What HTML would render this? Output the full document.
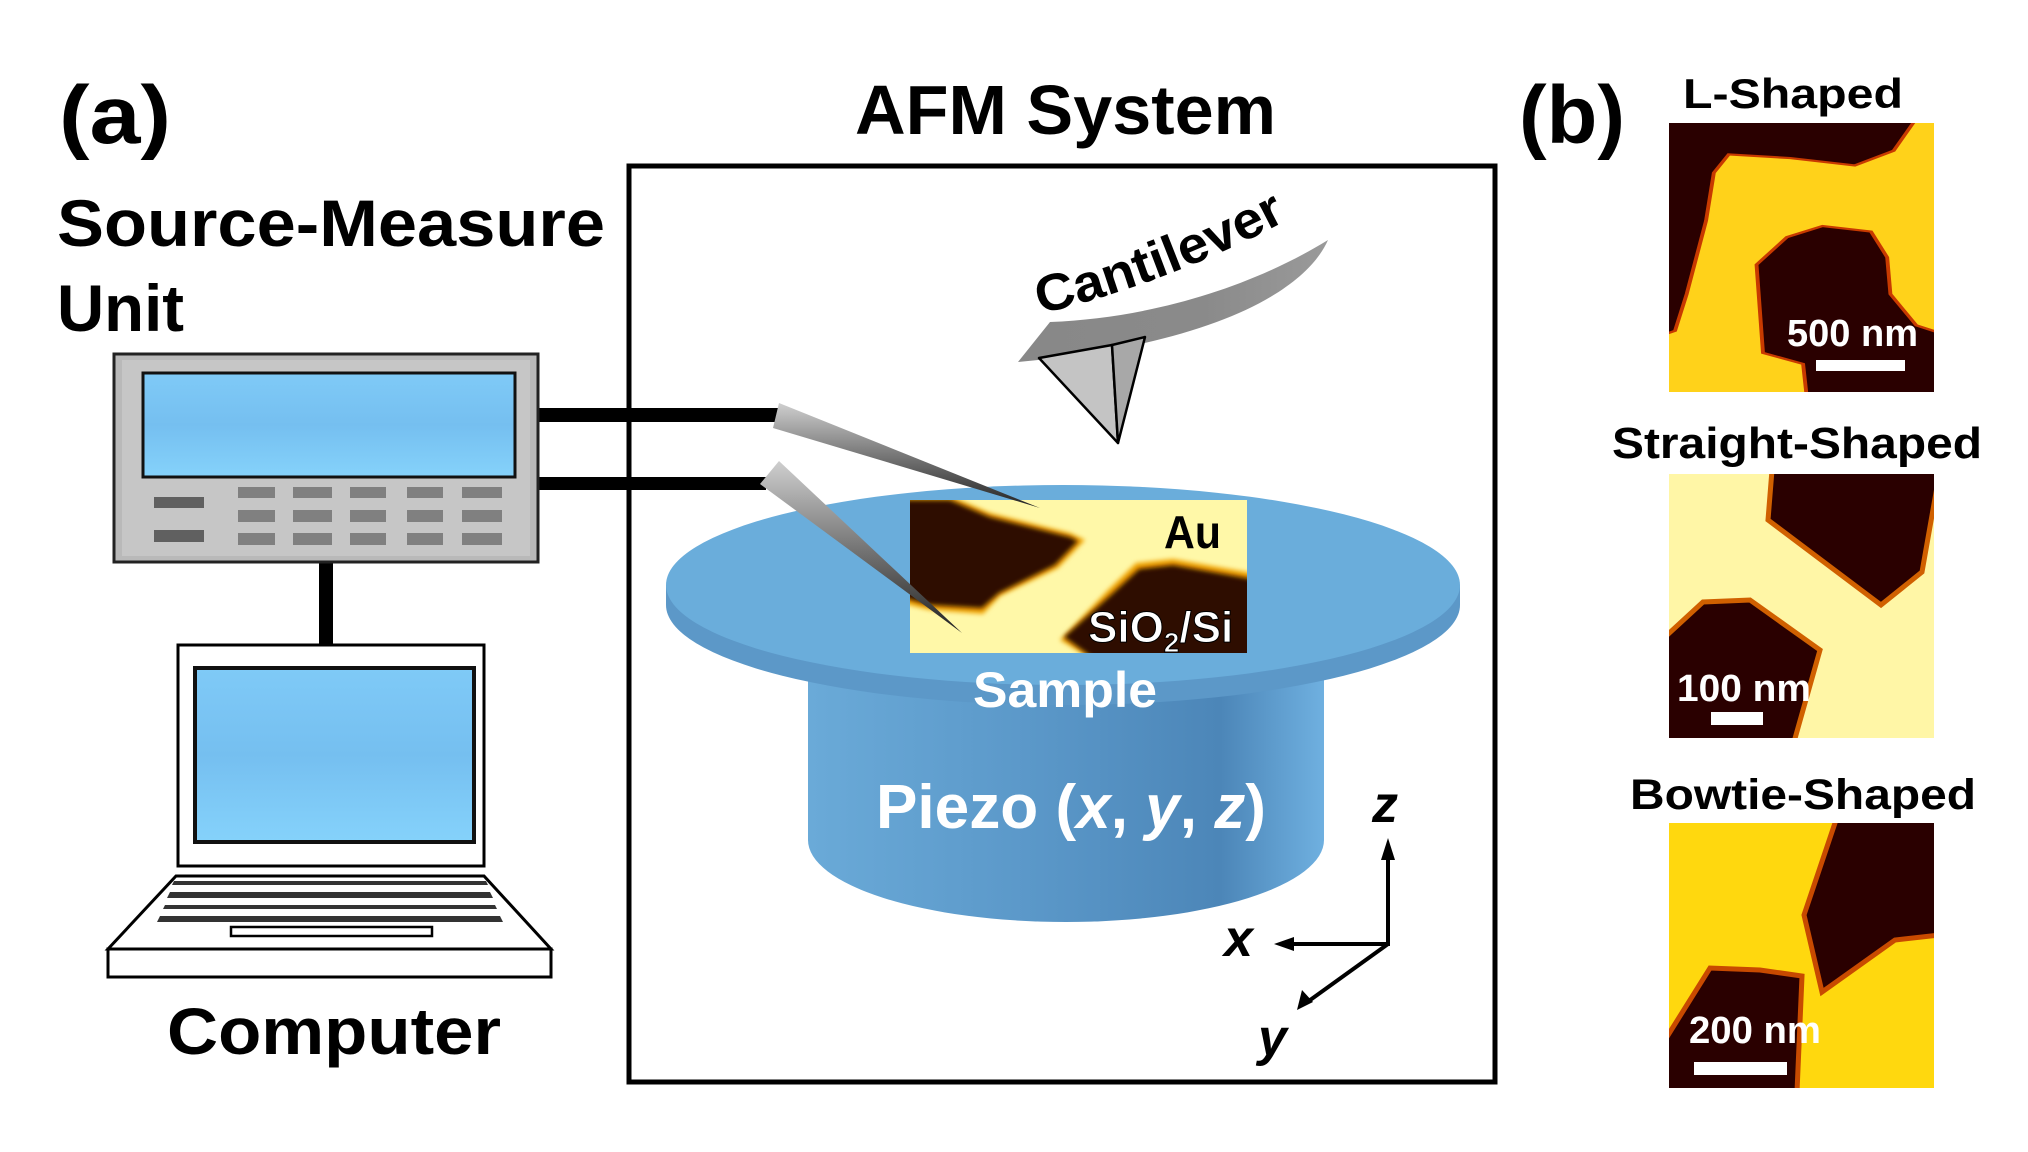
<!DOCTYPE html>
<html><head><meta charset="utf-8"><style>
html,body{margin:0;padding:0;background:#fff}
svg{display:block}
text{font-family:"Liberation Sans",Arial,sans-serif;font-weight:bold}
</style></head><body>
<svg width="2028" height="1152" viewBox="0 0 2028 1152" xmlns="http://www.w3.org/2000/svg">
<defs>
<linearGradient id="cyl" x1="0" x2="1" y1="0" y2="0">
<stop offset="0" stop-color="#6aaad8"/><stop offset="0.45" stop-color="#5a97c8"/><stop offset="0.8" stop-color="#4c86b8"/><stop offset="1" stop-color="#6fb0e0"/>
</linearGradient>
<linearGradient id="cant" x1="0" x2="1" y1="0" y2="0">
<stop offset="0" stop-color="#888"/><stop offset="0.6" stop-color="#8a8a8a"/><stop offset="1" stop-color="#9a9a9a"/>
</linearGradient>
<linearGradient id="ndl" x1="0" x2="0" y1="0" y2="1">
<stop offset="0" stop-color="#cfcfcf"/><stop offset="0.5" stop-color="#777"/><stop offset="1" stop-color="#222"/>
</linearGradient>
<linearGradient id="scr" x1="0" x2="0" y1="0" y2="1">
<stop offset="0" stop-color="#7fcaf7"/><stop offset="0.5" stop-color="#75bff0"/><stop offset="1" stop-color="#85d2fb"/>
</linearGradient>
<filter id="bl" x="-10%" y="-10%" width="120%" height="120%"><feGaussianBlur stdDeviation="2.5"/></filter>
<clipPath id="c0"><rect x="910" y="500" width="337" height="153"/></clipPath>
<clipPath id="c1"><rect x="1669" y="123" width="265" height="269"/></clipPath>
<clipPath id="c2"><rect x="1669" y="474" width="265" height="264"/></clipPath>
<clipPath id="c3"><rect x="1669" y="823" width="265" height="265"/></clipPath>
</defs>

<text x="59" y="143" font-size="82" textLength="112" lengthAdjust="spacingAndGlyphs">(a)</text>
<text x="855" y="134" font-size="70" textLength="421" lengthAdjust="spacingAndGlyphs">AFM System</text>
<text x="57" y="246" font-size="66" textLength="548" lengthAdjust="spacingAndGlyphs">Source-Measure</text>
<text x="57" y="331" font-size="66" textLength="127" lengthAdjust="spacingAndGlyphs">Unit</text>
<text x="1519" y="143" font-size="82" textLength="106" lengthAdjust="spacingAndGlyphs">(b)</text>

<rect x="629" y="166" width="866" height="916" fill="none" stroke="#000" stroke-width="5"/>

<rect x="538" y="408" width="240" height="14" fill="#000"/>
<rect x="538" y="477" width="228" height="13" fill="#000"/>
<rect x="319" y="560" width="14" height="86" fill="#000"/>

<rect x="114" y="354" width="424" height="208" fill="#b9b9b9" stroke="#222" stroke-width="3"/>
<rect x="122" y="360" width="408" height="196" fill="#c6c6c6"/>
<rect x="143" y="373" width="372" height="104" fill="url(#scr)" stroke="#111" stroke-width="3"/>
<g fill="#606060"><rect x="154" y="497" width="50" height="11"/><rect x="154" y="530" width="50" height="12"/></g>
<g fill="#808080">
<rect x="238" y="487" width="37" height="11"/><rect x="293" y="487" width="39" height="11"/><rect x="350" y="487" width="36" height="11"/><rect x="407" y="487" width="36" height="11"/><rect x="462" y="487" width="40" height="11"/>
<rect x="238" y="510" width="37" height="12"/><rect x="293" y="510" width="39" height="12"/><rect x="350" y="510" width="36" height="12"/><rect x="407" y="510" width="36" height="12"/><rect x="462" y="510" width="40" height="12"/>
<rect x="238" y="533" width="37" height="12"/><rect x="293" y="533" width="39" height="12"/><rect x="350" y="533" width="36" height="12"/><rect x="407" y="533" width="36" height="12"/><rect x="462" y="533" width="40" height="12"/>
</g>

<rect x="178" y="645" width="306" height="221" fill="#fff" stroke="#000" stroke-width="3"/>
<rect x="195" y="668" width="279" height="174" fill="url(#scr)" stroke="#111" stroke-width="4"/>
<polygon points="176,876 484,876 551,949 108,949" fill="#fff" stroke="#000" stroke-width="3"/>
<g fill="#333">
<polygon points="174,881 486,881 488,885 172,885"/>
<polygon points="170,892 490,892 493,898 167,898"/>
<polygon points="165,905 495,905 497,909 163,909"/>
<polygon points="160,916 500,916 503,922 157,922"/>
</g>
<rect x="231" y="927" width="201" height="9" fill="#fff" stroke="#000" stroke-width="2.5"/>
<rect x="108" y="949" width="443" height="28" fill="#fff" stroke="#000" stroke-width="3"/>
<text x="167" y="1054" font-size="66" textLength="334" lengthAdjust="spacingAndGlyphs">Computer</text>

<rect x="808" y="640" width="516" height="200" fill="url(#cyl)"/>
<ellipse cx="1066" cy="840" rx="258" ry="82" fill="url(#cyl)"/>
<ellipse cx="1063" cy="605" rx="397" ry="100" fill="#5c98c8"/>
<rect x="666" y="585" width="794" height="20" fill="#5c98c8"/>
<ellipse cx="1063" cy="585" rx="397" ry="100" fill="#6aaddb"/>

<g clip-path="url(#c0)">
<rect x="910" y="500" width="337" height="153" fill="#fff8a8"/>
<g filter="url(#bl)">
<polygon points="905,496 950,496 990,513 1070,533 1085,540 1058,568 1000,596 983,614 930,610 905,604" fill="#f0a000"/>
<polygon points="1060,640 1108,590 1136,563 1173,559 1252,573 1252,658 1090,658" fill="#f0a000"/>
</g>
<polygon points="905,500 950,500 990,517 1070,537 1078,541 1055,565 999,593 982,608 930,605 905,598" fill="#2e0a04" filter="url(#bl)"/>
<polygon points="1064,637 1112,594 1139,569 1173,565 1252,579 1252,658 1093,658" fill="#2e0a04" filter="url(#bl)"/>
</g>
<text x="1164" y="548" font-size="46" textLength="57" lengthAdjust="spacingAndGlyphs" fill="#000">Au</text>
<text x="1088" y="642" font-size="44" fill="#fff" stroke="#000" stroke-width="1">SiO<tspan font-size="28" dy="10">2</tspan><tspan dy="-10">/Si</tspan></text>

<polygon points="779,403 773,428 1040,508" fill="url(#ndl)"/>
<polygon points="779,461 760,484 962,633" fill="url(#ndl)"/>

<path d="M1018,362 L1050,322 C1150,318 1250,288 1328,240 C1305,292 1210,345 1018,362 Z" fill="url(#cant)"/>
<polygon points="1039,358 1112,345 1118,443" fill="#c4c4c4" stroke="#000" stroke-width="2.5" stroke-linejoin="round"/>
<polygon points="1112,345 1145,337 1118,443" fill="#a8a8a8" stroke="#000" stroke-width="2.5" stroke-linejoin="round"/>
<path id="cp" d="M1040,314 Q1170,283 1295,216" fill="none"/>
<text font-size="52"><textPath href="#cp" textLength="265" lengthAdjust="spacingAndGlyphs">Cantilever</textPath></text>

<text x="973" y="707" font-size="50" fill="#fff" textLength="184" lengthAdjust="spacingAndGlyphs">Sample</text>
<text x="876" y="828" font-size="62" fill="#fff" textLength="390" lengthAdjust="spacingAndGlyphs">Piezo (<tspan font-style="italic">x</tspan>, <tspan font-style="italic">y</tspan>, <tspan font-style="italic">z</tspan>)</text>

<g stroke="#000" stroke-width="4" fill="none">
<line x1="1388" y1="946" x2="1388" y2="850"/>
<line x1="1390" y1="944" x2="1284" y2="944"/>
<line x1="1388" y1="944" x2="1306" y2="1003"/>
</g>
<g fill="#000">
<polygon points="1388,838 1381,860 1395,860"/>
<polygon points="1274,944 1294,937 1294,951"/>
<polygon points="1297,1010 1302,990 1313,1002"/>
</g>
<text x="1372" y="822" font-size="52" font-style="italic">z</text>
<text x="1224" y="956" font-size="52" font-style="italic">x</text>
<text x="1258" y="1055" font-size="52" font-style="italic">y</text>

<text x="1683" y="108" font-size="42" textLength="220" lengthAdjust="spacingAndGlyphs">L-Shaped</text>
<g clip-path="url(#c1)">
<rect x="1669" y="123" width="265" height="269" fill="#ffd21a"/>
<g transform="translate(1014,0) scale(0.6468,0.3676)" fill="#2a0000" stroke="#c83a00" stroke-width="6">
<polygon points="1005,330 1392,330 1360,410 1300,450 1200,430 1105,420 1082,470 1070,600 1040,800 1022,900 1005,910"/>
<polygon points="1225,1070 1430,1070 1430,905 1395,885 1355,800 1350,700 1325,630 1250,615 1195,645 1148,720 1158,960 1220,990"/>
</g>
</g>
<text x="1787" y="346" font-size="38" fill="#fff" textLength="131" lengthAdjust="spacingAndGlyphs">500 nm</text>
<rect x="1816" y="360" width="89" height="11" fill="#fff"/>

<text x="1612" y="458" font-size="44" textLength="370" lengthAdjust="spacingAndGlyphs">Straight-Shaped</text>
<g clip-path="url(#c2)">
<rect x="1669" y="474" width="265" height="264" fill="#fff6a6"/>
<g fill="#2a0000" stroke="#d06000" stroke-width="5">
<polygon points="1772,470 1940,470 1922,572 1881,605 1768,520"/>
<polygon points="1665,637 1703,602 1750,600 1820,650 1794,742 1665,742"/>
</g>
</g>
<text x="1677" y="701" font-size="38" fill="#fff" textLength="134" lengthAdjust="spacingAndGlyphs">100 nm</text>
<rect x="1711" y="712" width="52" height="13" fill="#fff"/>

<text x="1630" y="809" font-size="43" textLength="346" lengthAdjust="spacingAndGlyphs">Bowtie-Shaped</text>
<g clip-path="url(#c3)">
<rect x="1669" y="823" width="265" height="265" fill="#ffd80e"/>
<g fill="#2a0000" stroke="#c84a00" stroke-width="5">
<polygon points="1836,820 1940,820 1940,935 1895,940 1822,992 1804,915"/>
<polygon points="1665,1040 1710,968 1760,970 1802,976 1797,1092 1665,1092"/>
</g>
</g>
<text x="1689" y="1043" font-size="38" fill="#fff" textLength="132" lengthAdjust="spacingAndGlyphs">200 nm</text>
<rect x="1694" y="1062" width="93" height="13" fill="#fff"/>
</svg>
</body></html>
